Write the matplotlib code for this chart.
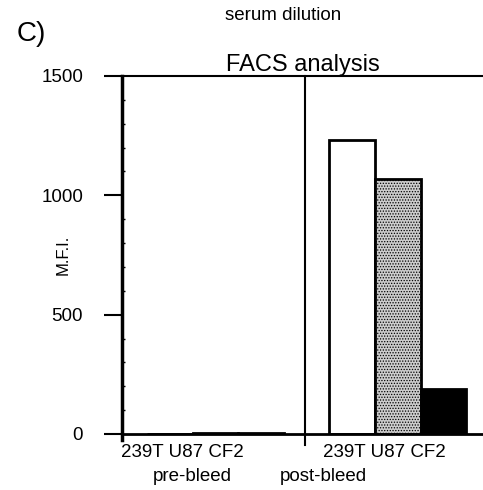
import numpy as np
import matplotlib.pyplot as plt
from matplotlib.ticker import MultipleLocator

plt.rcParams['font.family'] = ['Liberation Sans', 'DejaVu Sans']
plt.rcParams['hatch.linewidth'] = 0.6

# ==================== data ====================
cells = ['239T', 'U87', 'CF2']
groups = ['pre-bleed', 'post-bleed']
pre_mfi = [2, 6, 3]
post_mfi = [1230, 1070, 190]
bar_faces = ['white', '#cccccc', 'black']
bar_hatch = [None, '......', None]

fig = plt.figure(figsize=(4.83, 4.90), dpi=100)
ax = fig.add_axes([0.2526, 0.1143, 0.7474, 0.7306])

pos_pre = np.arange(3)
pos_post = np.arange(3) + 4
for vals, pos in [(pre_mfi, pos_pre), (post_mfi, pos_post)]:
    for i in range(3):
        ax.bar(pos[i], vals[i], width=1.0, color=bar_faces[i], hatch=bar_hatch[i],
               edgecolor='black', linewidth=2)

ax.set_xlim(-1.05, 6.87)
ax.set_ylim(0, 1500)

# divider between groups
ax.plot([2.97, 2.97], [-46, 1500], color='black', lw=1.5, clip_on=False)

ax.spines['right'].set_visible(False)
ax.spines['left'].set_linewidth(2.5)
ax.spines['left'].set_bounds(-25, 1500)
ax.spines['bottom'].set_linewidth(2)
ax.spines['top'].set_linewidth(1.5)

ax.set_xticks([])
ax.set_yticks([0, 500, 1000, 1500])
ax.yaxis.set_minor_locator(MultipleLocator(100))
ax.tick_params(axis='y', which='major', direction='out', length=13, width=1.5,
               labelsize=13.5, pad=15)
ax.tick_params(axis='y', which='minor', direction='in', length=2, width=1)
ax.set_ylabel('M.F.I.', fontsize=12)
ax.yaxis.set_label_coords(-0.142, 0.5)

# group tick text
sep = ' '
for xc in [0.27, 4.70]:
    ax.text(xc, -40, sep.join(cells), ha='center', va='top', fontsize=13.5)
ax.text(0.49, -142, groups[0], ha='center', va='top', fontsize=13.5)
ax.text(3.36, -142, groups[1], ha='center', va='top', fontsize=13.5)

ax.set_title('FACS analysis', fontsize=17, pad=3)
fig.text(0.586, 0.968, 'serum dilution', ha='center', va='center', fontsize=13.5)
fig.text(0.035, 0.93, 'C)', ha='left', va='center', fontsize=20)

plt.savefig('out.png', dpi=100)
